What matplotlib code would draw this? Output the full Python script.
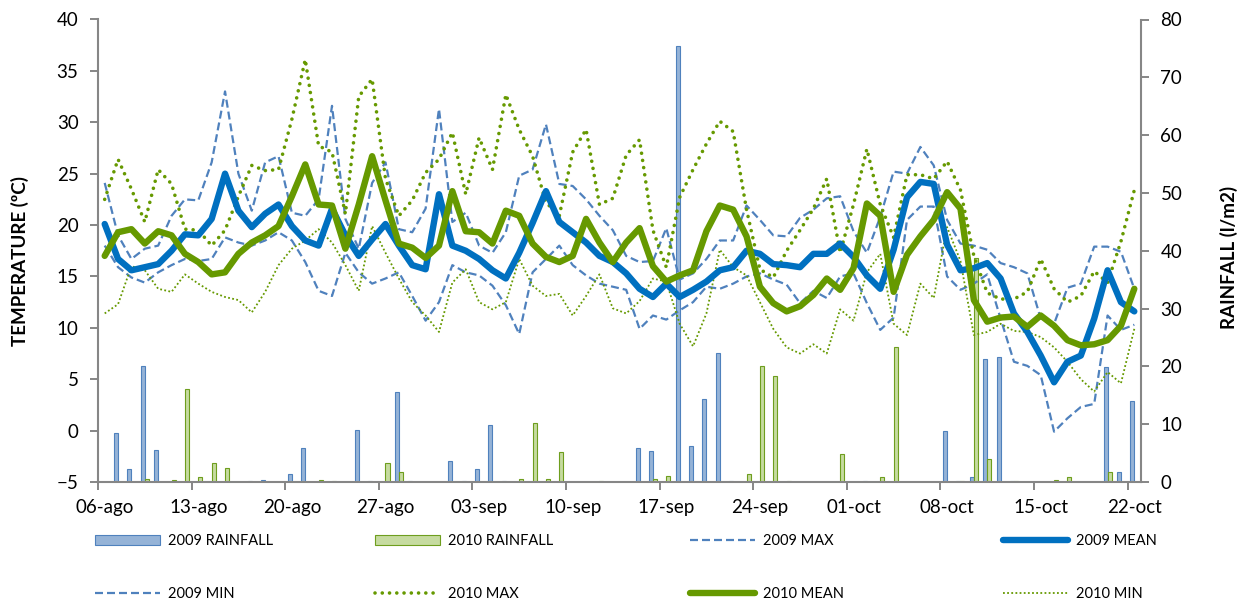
import matplotlib
matplotlib.use("Agg")
import matplotlib.pyplot as plt
import numpy as np

plt.rcParams['font.family'] = ['Lato', 'DejaVu Sans']

# Daily series from 06-ago to 22-oct (78 days)
tick_labels = ["06-ago", "13-ago", "20-ago", "27-ago", "03-sep", "10-sep",
               "17-sep", "24-sep", "01-oct", "08-oct", "15-oct", "22-oct"]

rain_2009 = [0, 8.5, 2.3, 20.1, 5.6, 0, 0, 0, 0, 0,
             0, 0.2, 0.3, 0, 1.4, 5.8, 0, 0, 0, 9.0,
             0.1, 0, 15.5, 0.1, 0, 0, 3.7, 0.1, 2.3, 9.9,
             0.1, 0, 0, 0, 0, 0, 0, 0, 0, 0,
             5.8, 5.4, 0, 75.4, 6.3, 14.3, 22.4, 0.1, 0, 0,
             0, 0, 0, 0, 0, 0, 0, 0.2, 0, 0,
             0, 0, 0, 8.9, 0.1, 0.9, 21.3, 21.6, 0.1, 0,
             0, 0, 0, 0, 0, 19.9, 1.7, 14.0]

rain_2010 = [0, 0, 0, 0.6, 0, 0.4, 16.1, 0.8, 3.3, 2.5,
             0, 0, 0, 0, 0, 0, 0.4, 0.1, 0, 0,
             0, 3.3, 1.7, 0, 0, 0, 0, 0, 0, 0,
             0, 0.5, 10.2, 0.5, 5.2, 0, 0, 0.1, 0, 0,
             0, 0.5, 1.1, 0, 0, 0, 0, 0, 1.4, 20.0,
             18.4, 0.1, 0, 0, 0, 4.9, 0, 0, 0.9, 23.3,
             0, 0, 0, 0, 0.1, 38.8, 4.0, 0, 0.2, 0,
             0, 0.4, 0.8, 0, 0, 1.8, 0, 0]

max_2009 = [24.1, 19.0, 16.7, 17.7, 18.0, 20.9, 22.5, 22.4, 26.1, 33.0,
            25.0, 21.4, 26.1, 26.7, 21.2, 20.9, 22.5, 31.6, 20.6, 17.7,
            24.1, 26.1, 19.6, 19.3, 21.6, 31.3, 20.3, 21.2, 18.0, 17.3,
            19.3, 24.8, 25.4, 29.8, 24.0, 23.8, 22.5, 20.9, 19.5, 17.0,
            16.4, 16.5, 19.7, 14.7, 15.3, 16.7, 18.5, 18.5, 21.9, 20.5,
            19.0, 18.9, 20.7, 21.5, 22.6, 22.8, 19.4, 17.3, 20.8, 25.2,
            25.0, 27.6, 25.8, 20.5, 18.2, 18.0, 17.6, 16.3, 15.9, 15.3,
            10.9, 10.4, 13.9, 14.3, 17.9, 17.9, 17.4, 13.8]

mean_2009 = [20.1, 16.7, 15.6, 15.9, 16.2, 17.5, 19.1, 19.0, 20.6, 25.0,
             21.4, 19.8, 21.1, 22.0, 19.9, 18.5, 18.0, 21.6, 19.0, 17.0,
             18.6, 20.1, 18.0, 16.1, 15.7, 23.0, 18.0, 17.5, 16.7, 15.6,
             14.8, 17.3, 20.2, 23.3, 20.3, 19.3, 18.3, 17.0, 16.4, 15.3,
             13.8, 13.0, 14.3, 13.0, 13.7, 14.5, 15.6, 15.9, 17.5, 17.2,
             16.2, 16.1, 15.9, 17.2, 17.2, 18.2, 16.9, 15.1, 13.8, 17.6,
             22.7, 24.2, 24.0, 18.1, 15.6, 15.8, 16.3, 14.8, 11.4, 9.6,
             7.3, 4.7, 6.7, 7.3, 10.9, 15.6, 12.5, 11.6]

min_2009 = [18.0, 15.9, 14.9, 14.4, 15.4, 16.1, 16.7, 16.5, 16.7, 18.8,
            18.3, 18.0, 18.5, 19.3, 18.5, 16.4, 13.6, 13.1, 17.3, 15.4,
            14.3, 14.8, 15.4, 13.1, 10.7, 12.5, 16.1, 15.4, 15.1, 14.1,
            12.2, 9.4, 15.4, 16.7, 18.0, 16.1, 15.1, 14.3, 14.0, 13.7,
            9.9, 11.2, 10.8, 11.7, 12.5, 14.0, 13.8, 14.3, 15.0, 15.3,
            14.7, 14.2, 12.4, 13.6, 12.9, 15.0, 15.3, 12.4, 9.8, 11.0,
            20.5, 21.8, 21.8, 15.0, 13.7, 14.3, 15.2, 10.9, 6.7, 6.3,
            5.4, -0.1, 1.2, 2.3, 2.6, 11.2, 9.8, 10.3]

max_2010 = [22.5, 26.4, 23.5, 20.3, 25.4, 24.0, 19.6, 19.5, 18.0, 19.5,
            22.8, 25.8, 25.3, 25.4, 30.3, 36.1, 27.7, 27.1, 21.1, 32.5,
            34.2, 24.5, 20.9, 22.4, 25.1, 26.4, 29.0, 23.0, 28.5, 25.4,
            32.7, 29.3, 26.7, 22.2, 20.9, 27.1, 29.3, 22.0, 22.6, 26.8,
            28.3, 19.5, 15.9, 22.7, 25.4, 27.9, 30.1, 29.1, 21.5, 15.7,
            14.9, 17.5, 19.5, 21.6, 24.5, 17.3, 22.0, 27.4, 22.0, 18.8,
            24.9, 24.9, 24.5, 26.2, 23.4, 17.0, 13.4, 12.8, 12.8, 13.5,
            16.7, 13.8, 12.5, 13.1, 15.5, 14.4, 18.4, 23.4]

mean_2010 = [17.0, 19.3, 19.6, 18.2, 19.4, 19.0, 17.2, 16.4, 15.2, 15.4,
             17.2, 18.3, 19.0, 19.9, 22.8, 25.9, 22.0, 21.9, 17.7, 22.0,
             26.7, 22.4, 18.2, 17.8, 16.8, 18.0, 23.3, 19.4, 19.3, 18.2,
             21.4, 20.9, 18.2, 16.9, 16.4, 17.0, 20.6, 18.3, 16.4, 18.3,
             19.7, 16.0, 14.5, 15.1, 15.6, 19.4, 21.9, 21.5, 18.9, 14.0,
             12.4, 11.6, 12.1, 13.2, 14.8, 13.7, 15.8, 22.1, 20.9, 13.5,
             17.1, 18.9, 20.5, 23.2, 21.6, 12.7, 10.6, 11.0, 11.1, 10.1,
             11.2, 10.2, 8.8, 8.3, 8.4, 8.8, 10.2, 13.8]

min_2010 = [11.4, 12.3, 16.0, 15.6, 13.8, 13.5, 15.2, 14.3, 13.5, 13.0,
            12.7, 11.5, 13.5, 16.1, 17.7, 18.5, 19.6, 18.3, 16.1, 13.6,
            19.9, 17.3, 14.8, 12.5, 11.2, 9.6, 14.4, 15.7, 12.5, 11.8,
            12.5, 16.7, 14.1, 13.1, 13.3, 11.2, 13.1, 15.2, 11.9, 11.4,
            12.6, 14.8, 14.5, 10.4, 8.2, 11.4, 17.6, 15.9, 15.1, 12.5,
            9.9, 8.1, 7.5, 8.4, 7.5, 11.8, 10.7, 15.4, 17.2, 10.4,
            9.3, 14.3, 12.9, 19.8, 16.5, 9.3, 9.6, 10.4, 9.7, 9.6,
            9.1, 8.1, 6.7, 5.0, 3.8, 5.7, 4.6, 9.9]

days = np.arange(len(mean_2009))

W, H = 1253, 604
fig = plt.figure(figsize=(W / 100, H / 100), dpi=100)
ax = fig.add_axes([98 / W, 1 - 482 / H, (1141 - 98) / W, (482 - 19.5) / H])
ax2 = ax.twinx()

axis_grey = '#868686'
blue_line = '#0070C0'
blue_dash = '#4F81BD'
green = '#669900'

# rainfall bars on the secondary axis
bw = 0.3
bars09 = ax2.bar(days - bw / 2, rain_2009, width=bw, color='#95B3D7',
                 edgecolor='#4F81BD', linewidth=0.8)
bars10 = ax2.bar(days + bw / 2, rain_2010, width=bw, color='#C6DBA0',
                 edgecolor='#6E9E1E', linewidth=0.8)

# temperatures on the primary axis, drawn above the bars
ax.set_zorder(ax2.get_zorder() + 1)
ax.patch.set_visible(False)

l_max09, = ax.plot(days, max_2009, color=blue_dash, lw=1.6,
                   linestyle=(0, (3.6, 1.8)))
l_min09, = ax.plot(days, min_2009, color=blue_dash, lw=1.6,
                   linestyle=(0, (3.6, 1.8)))
l_max10, = ax.plot(days, max_2010, color=green, lw=2.6,
                   linestyle=(0, (0.01, 2.0)), dash_capstyle='round')
l_min10, = ax.plot(days, min_2010, color=green, lw=1.3,
                   linestyle=(0, (1, 1.3)))
l_mean09, = ax.plot(days, mean_2009, color=blue_line, lw=4.6,
                    solid_joinstyle='round', solid_capstyle='round')
l_mean10, = ax.plot(days, mean_2010, color=green, lw=4.6,
                    solid_joinstyle='round', solid_capstyle='round')

ax.set_xlim(-0.5, len(days) - 0.5)
ax.set_ylim(-5, 40)
ax2.set_ylim(0, 80)
ax.set_yticks(np.arange(-5, 41, 5))
ax2.set_yticks(np.arange(0, 81, 10))

label_pos = np.arange(0, len(days), 7)
ax.set_xticks(label_pos)
ax.set_xticklabels(tick_labels)
ax.set_xticks(np.arange(-0.5, len(days) - 0.5, 7), minor=True)
ax.tick_params(axis='x', which='major', length=0, pad=12, labelsize=13.5)
ax.tick_params(axis='x', which='minor', length=6, width=1.4,
               color=axis_grey, direction='out')
ax.tick_params(axis='y', length=6, width=1.4, color=axis_grey,
               direction='out', labelsize=13.5, pad=8)
ax2.tick_params(axis='y', length=6, width=1.4, color=axis_grey,
                direction='out', labelsize=13.5, pad=8)

for s in ['top', 'right']:
    ax.spines[s].set_visible(False)
for s in ['top', 'left', 'bottom']:
    ax2.spines[s].set_visible(False)
for a, s in [(ax, 'left'), (ax, 'bottom'), (ax2, 'right')]:
    a.spines[s].set_color(axis_grey)
    a.spines[s].set_linewidth(1.5)

fig.text(20 / W, 1 - 261 / H, 'TEMPERATURE (ºC)', rotation=90,
         ha='center', va='center', fontsize=13.5, fontweight='bold')
fig.text(1229 / W, 1 - 257 / H, 'RAINFALL (l/m2)', rotation=90,
         ha='center', va='center', fontsize=13.5, fontweight='bold')

# legend laid out as four columns of two entries
columns = [
    ([bars09, l_min09], ['2009 RAINFALL', '2009 MIN'], 95),
    ([bars10, l_max10], ['2010 RAINFALL', '2010 MAX'], 375),
    ([l_max09, l_mean10], ['2009 MAX', '2010 MEAN'], 690),
    ([l_mean09, l_min10], ['2009 MEAN', '2010 MIN'], 1003),
]
for handles, labels, x0 in columns:
    fig.legend(handles, labels, loc='upper left',
               bbox_to_anchor=(x0 / W, 1 - 534 / H), frameon=False,
               fontsize=10.5, handlelength=4.45, handletextpad=0.55,
               labelspacing=2.7, borderpad=0, borderaxespad=0)

fig.savefig('out.png', dpi=100)
